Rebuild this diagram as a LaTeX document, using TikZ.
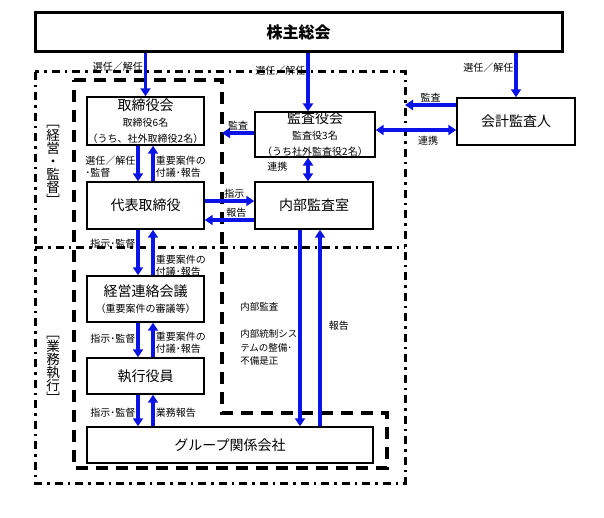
\documentclass[tikz,border=0pt]{standalone}
\usepackage{fontspec}
\setmainfont{Noto Sans CJK JP}
\usepackage{tikz}
\usetikzlibrary{arrows.meta}
\usepackage{xcolor}
\definecolor{linkblue}{RGB}{10,20,230}

\begin{document}
\begin{tikzpicture}[x=1pt,y=-1pt,
		box/.style={draw, line width=1.4pt, fill=white, align=center, inner sep=0pt, font=\fontsize{14}{16}\selectfont},
		arr/.style={draw=linkblue, line width=3.5pt, -{Triangle[width=10pt,length=8pt]}},
		arrboth/.style={draw=linkblue, line width=3.5pt, {Triangle[width=10pt,length=8pt]}-{Triangle[width=10pt,length=8pt]}},
		lbl/.style={font=\fontsize{10}{12}\selectfont, inner sep=1pt, align=left, text=black},
		vlbl/.style={font=\fontsize{13.5}{13}\selectfont, inner sep=0pt, align=center}]
		\useasboundingbox (0,0) rectangle (604,518);
		\draw[line width=3pt, dash pattern=on 8pt off 5pt on 2.5pt off 5pt] (35,72) rectangle (405,483);
		\draw[line width=3pt, dash pattern=on 8pt off 5pt on 2.5pt off 5pt] (35,248) -- (405,248);
		\draw[line width=3.2pt, dash pattern=on 12pt off 8pt] (74,80) -- (222,80) -- (222,413) -- (387,413) -- (387,468) -- (74,468) -- cycle;
		\node[vlbl] (keieikantoku) at (53,165) {﹇\\経\\営\\・\\監\\督\\﹈};
		\node[vlbl] (gyomushikko) at (53,370) {﹇\\業\\務\\執\\行\\﹈};
		
		\node[box, line width=3pt, minimum width=527pt, minimum height=39pt, font=\fontsize{16}{18}\selectfont\bfseries] (soukai) at (298.5,32.5) {株主総会};
		\node[box, minimum width=117pt, minimum height=48pt] (torishimari) at (145.5,121) {取締役会\\{\fontsize{10}{16}\selectfont 取締役6名}\\{\fontsize{10}{16}\selectfont （うち、社外取締役2名）}};
		\node[box, minimum width=120pt, minimum height=43pt] (kansa) at (315,134.5) {監査役会\\{\fontsize{10}{15}\selectfont 監査役3名}\\{\fontsize{10}{15}\selectfont （うち社外監査役2名）}};
		\node[box, minimum width=118pt, minimum height=47pt] (kaikei) at (516,121.5) {会計監査人};
		\node[box, minimum width=117pt, minimum height=47pt] (daihyo) at (145.5,205.5) {代表取締役};
		\node[box, minimum width=118pt, minimum height=47pt] (naibu) at (314,205.5) {内部監査室};
		\node[box, minimum width=117pt, minimum height=46pt] (keiei) at (145.5,299) {経営連絡会議\\{\fontsize{10}{17}\selectfont （重要案件の審議等）}};
		\node[box, minimum width=117pt, minimum height=36pt] (shikko) at (145.5,376) {執行役員};
		\node[box, minimum width=286pt, minimum height=36pt] (group) at (230,445) {グループ関係会社};
		\coordinate (kansaA) at (405,105);
		\coordinate (kansaB) at (222,133);
		
		\draw[arr] (torishimari.north |- soukai.south) -- node[lbl, left, pos=0.3] (sennin1) {選任／解任} (torishimari.north);
		\draw[arr] ([xshift=-7pt]kansa.north |- soukai.south) -- node[lbl, left, pos=0.3] (sennin2) {選任／解任} ([xshift=-7pt]kansa.north);
		\draw[arr] (kaikei.north |- soukai.south) -- node[lbl, left, pos=0.33] (sennin3) {選任／解任} (kaikei.north);
		\draw[arr] (kaikei.west |- kansaA) -- node[lbl, above] (kansa1) {監査} (kansaA);
		\draw[arr] (kansa.west |- kansaB) -- node[lbl, above] (kansa2) {監査} (kansaB);
		\draw[arrboth] ([yshift=4.5pt]kansa.east) -- node[lbl, below=3pt, pos=0.65] (renkei1) {連携} ([yshift=4.5pt]kansa.east -| kaikei.west);
		\draw[arrboth] ([xshift=-7pt]kansa.south) -- node[lbl, left=18pt, pos=0.4] (renkei2) {連携} ([xshift=-7pt]kansa.south |- naibu.north);
		
		\draw[arr] ([xshift=-7.5pt]torishimari.south) -- node[lbl, left, pos=0.6] (sennin4) {選任／解任\\･監督} ([xshift=-7.5pt]daihyo.north);
		\draw[arr] ([xshift=7.5pt]daihyo.north) -- node[lbl, right, pos=0.4] (fugi1) {重要案件の\\付議･報告} ([xshift=7.5pt]torishimari.south);
		\draw[arr] ([yshift=4.5pt]daihyo.east) -- node[lbl, above, pos=0.6] (shiji1) {指示} ([yshift=4.5pt]daihyo.east -| naibu.west);
		\draw[arr] ([yshift=-14.5pt]naibu.west) -- node[lbl, above, pos=0.36] (houkoku1) {報告} ([yshift=-14.5pt]naibu.west -| daihyo.east);
		
		\draw[arr] ([xshift=-7.5pt]daihyo.south) -- node[lbl, left, pos=0.3] (shiji2) {指示･監督} ([xshift=-7.5pt]keiei.north);
		\draw[arr] ([xshift=7.5pt]keiei.north) -- node[lbl, right, pos=0.22] (fugi2) {重要案件の\\付議･報告} ([xshift=7.5pt]daihyo.south);
		\draw[arr] ([xshift=-7.5pt]keiei.south) -- node[lbl, left, pos=0.47] (shiji3) {指示･監督} ([xshift=-7.5pt]shikko.north);
		\draw[arr] ([xshift=7.5pt]shikko.north) -- node[lbl, right, pos=0.43] (fugi3) {重要案件の\\付議･報告} ([xshift=7.5pt]keiei.south);
		\draw[arr] ([xshift=-7.5pt]shikko.south) -- node[lbl, left, pos=0.58] (shiji4) {指示･監督} ([xshift=-7.5pt]shikko.south |- group.north);
		\draw[arr] ([xshift=7.5pt]shikko.south |- group.north) -- node[lbl, right, pos=0.42] (gyomuhoukoku) {業務報告} ([xshift=7.5pt]shikko.south);
		
		\draw[arr] ([xshift=-14pt]naibu.south) -- node[lbl, left, pos=0.53, font=\fontsize{9.5}{13.5}\selectfont] (naibukansa) {内部監査\\[14pt]内部統制シス\\テムの整備･\\不備是正} ([xshift=-14pt]naibu.south |- group.north);
		\draw[arr] ([xshift=6pt]naibu.south |- group.north) -- node[lbl, right=6pt, pos=0.51] (houkoku2) {報告} ([xshift=6pt]naibu.south);
	\end{tikzpicture}
\end{document}
